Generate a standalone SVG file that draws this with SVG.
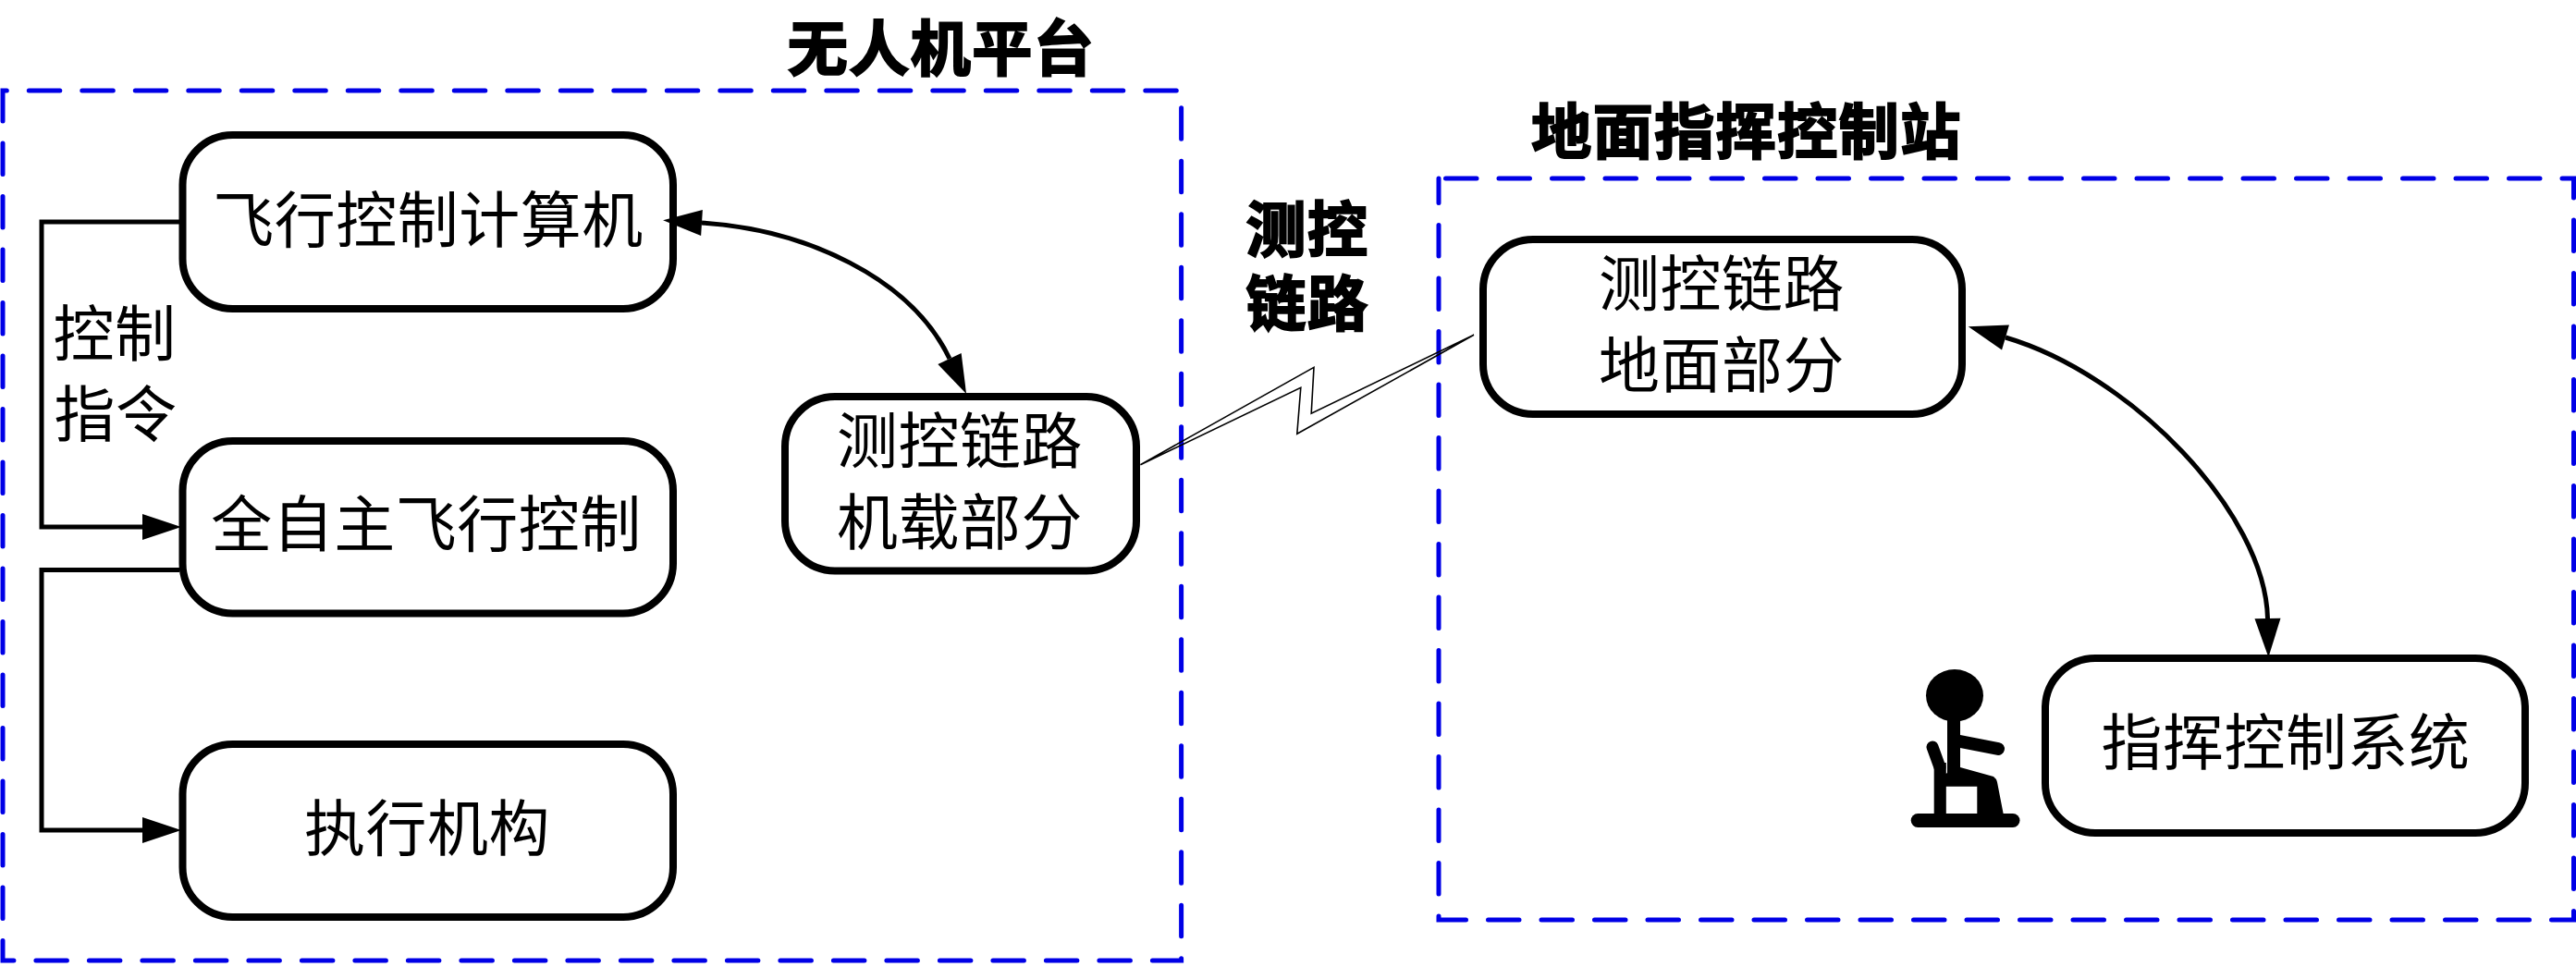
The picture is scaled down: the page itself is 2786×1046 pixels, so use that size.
<svg xmlns="http://www.w3.org/2000/svg" width="2786" height="1046" viewBox="0 0 2786 1046">
<style>
.bg{fill:#fff}
.box{fill:none;stroke:#0000e6;stroke-width:5;stroke-linecap:round;stroke-dasharray:33.5 24}
.node rect{fill:#fff;stroke:#000;stroke-width:8}
text{font-family:"Noto Sans CJK SC","Noto Sans CJK JP",sans-serif;fill:#000;text-anchor:middle}
.t{font-size:66px;letter-spacing:0.5px}
.h{font-size:65px;font-weight:700;letter-spacing:1.5px;stroke:#000;stroke-width:2.2px}
.w{fill:none;stroke:#000;stroke-width:5;stroke-linejoin:miter}
.z{fill:none;stroke:#000;stroke-width:1.6;stroke-linejoin:miter}
.p{fill:#000;stroke:none}
.s{stroke:#000;fill:none;stroke-linecap:round}
</style>
<defs>
<marker id="ah" markerUnits="userSpaceOnUse" markerWidth="44" markerHeight="30" refX="1" refY="15" orient="auto-start-reverse" viewBox="0 0 44 30">
<path d="M1 1L43 15L1 29Z" fill="#000"/>
</marker>
</defs>
<rect class="bg" width="2786" height="1046"/>
<g id="uav-platform">
<rect class="box" x="3" y="98" width="1274.6" height="941" stroke-dashoffset="29.2"/>
<text class="h" x="1018" y="76">无人机平台</text>
</g>
<g id="ground-station">
<rect class="box" x="1556" y="193" width="1227.5" height="802" stroke-dashoffset="50"/>
<text class="h" x="1889" y="166">地面指挥控制站</text>
</g>
<g id="node-flight-computer" class="node">
<rect x="197.5" y="146" width="530.5" height="188" rx="54" ry="54"/>
<text class="t" x="463" y="262">飞行控制计算机</text>
</g>
<g id="node-autonomous" class="node">
<rect x="197.5" y="477" width="530.5" height="186.5" rx="54" ry="54"/>
<text class="t" x="461" y="591">全自主飞行控制</text>
</g>
<g id="node-actuator" class="node">
<rect x="197.5" y="805" width="530.5" height="187" rx="54" ry="54"/>
<text class="t" x="462" y="920">执行机构</text>
</g>
<g id="node-link-air" class="node">
<rect x="849" y="429" width="380" height="188.5" rx="54" ry="54"/>
<text class="t" x="1038" y="501">测控链路</text>
<text class="t" x="1038" y="589">机载部分</text>
</g>
<g id="node-link-ground" class="node">
<rect x="1604" y="259" width="518" height="189" rx="54" ry="54"/>
<text class="t" x="1862" y="331">测控链路</text>
<text class="t" x="1862" y="419">地面部分</text>
</g>
<g id="node-command" class="node">
<rect x="2212" y="712" width="519" height="189" rx="54" ry="54"/>
<text class="t" x="2472" y="827">指挥控制系统</text>
</g>
<g id="label-command"><text class="t" x="124" y="385">控制</text><text class="t" x="125" y="472">指令</text></g>
<g id="label-link"><text class="h"><tspan x="1414" y="272">测控</tspan><tspan x="1414" y="352">链路</tspan></text></g>
<g id="person">
<ellipse class="p" cx="2114" cy="752.3" rx="31" ry="28.3"/>
<rect class="p" x="2106" y="778" width="14" height="60"/>
<path class="s" d="M2120 802L2161 810" stroke-width="14"/>
<path class="s" d="M2090 808L2098 830" stroke-width="13"/>
<rect class="p" x="2091.7" y="825" width="13.1" height="58"/>
<path class="p" d="M2104 837L2120 830L2156 840Q2159 842 2160 846L2167 882H2138.3V850.7H2104Z"/>
<rect class="p" x="2066.7" y="880" width="117.8" height="15" rx="7.5"/>
</g>
<g id="connectors">
<path class="w" d="M194 240H45V570H154" marker-end="url(#ah)"/>
<path class="w" d="M194 616.5H45V898H154" marker-end="url(#ah)"/>
<path class="w" d="M759 241C870 248 985 300 1027 388" marker-start="url(#ah)" marker-end="url(#ah)"/>
<path class="w" d="M2169 365C2305 405 2450 555 2452.5 669" marker-start="url(#ah)" marker-end="url(#ah)"/>
<path class="z" d="M1233.4 502.7L1421 397.3L1418.2 447.3L1594 362.3L1402.8 469.3L1406.8 419.3Z"/>
</g>
</svg>
